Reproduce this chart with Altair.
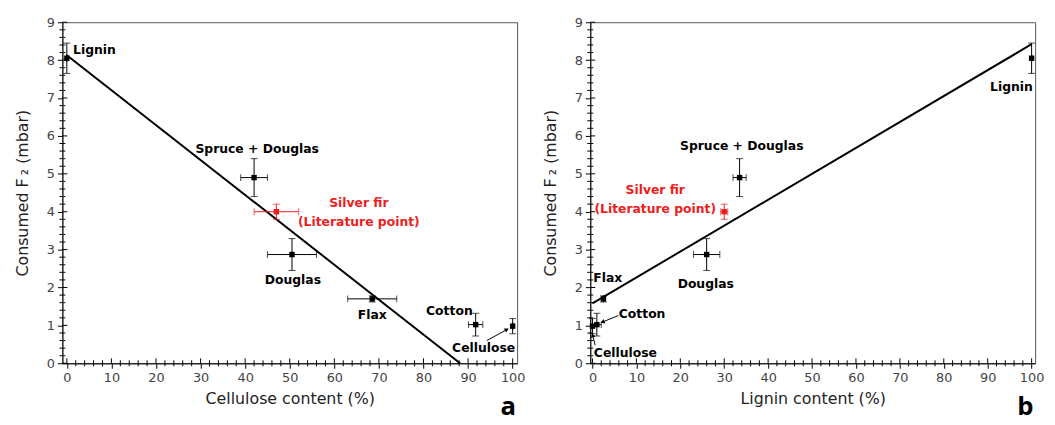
import altair as alt
import pandas as pd
import numpy as np

# ---------------- data ----------------
names = ["Lignin", "Spruce + Douglas", "Silver fir", "Douglas", "Flax", "Cotton", "Cellulose"]
consumed = [8.05, 4.9, 4.0, 2.87, 1.7, 1.02, 0.98]
consumed_err = [0.4, 0.5, 0.2, 0.42, 0.08, 0.3, 0.2]
cellulose = [0, 42, 47, 50.5, 68.5, 91.7, 100]
cellulose_err = [0, 3, 5, 5.5, 5.5, 1.6, 0]
lignin = [100, 33.5, 30, 26, 2.5, 1, 0]
lignin_err = [0, 1.5, 0.8, 3, 0, 1, 0]
group = ["sample", "sample", "literature", "sample", "sample", "sample", "sample"]

fit_a_x = [0, 88.2]
fit_a_y = [8.13, 0]
fit_b_x = [0, 100]
fit_b_y = [1.58, 8.42]

lab_a_text = ["Lignin", "Spruce + Douglas", "Silver fir", "(Literature point)", "Douglas", "Flax", "Cotton", "Cellulose"]
lab_a_x = [1.4, 42.7, 65.5, 65.5, 50.7, 68.5, 85.8, 93.5]
lab_a_y = [8.27, 5.66, 4.23, 3.73, 2.19, 1.28, 1.39, 0.39]
lab_a_align = ["left", "center", "center", "center", "center", "center", "center", "center"]
lab_a_group = ["sample", "sample", "literature", "literature", "sample", "sample", "sample", "sample"]

lab_b_text = ["Lignin", "Spruce + Douglas", "Silver fir", "(Literature point)", "Douglas", "Flax", "Cotton", "Cellulose"]
lab_b_x = [95.4, 34.0, 14.3, 14.3, 25.8, 0.2, 11.3, 7.5]
lab_b_y = [7.30, 5.72, 4.56, 4.07, 2.10, 2.26, 1.30, 0.28]
lab_b_align = ["center", "center", "center", "center", "center", "left", "center", "center"]
lab_b_group = ["sample", "sample", "literature", "literature", "sample", "sample", "sample", "sample"]

arrow_a_x = [94.2]
arrow_a_y = [0.6]
arrow_a_x2 = [98.7]
arrow_a_y2 = [0.89]

arrow_b_x = [5.9, 0.6]
arrow_b_y = [1.26, 0.48]
arrow_b_x2 = [2.3, 0.05]
arrow_b_y2 = [1.09, 0.74]

x_major = list(range(0, 101, 10))
x_minor = [v for v in range(0, 101, 2) if v % 10 != 0]
y_major = list(range(0, 10))
y_minor = [round(v, 1) for v in np.arange(0, 9.01, 0.2) if abs(v - round(v)) > 1e-6]

# ---------------- styling ----------------
W_A, W_B, H = 460, 450, 345
FONT = "DejaVu Sans"
RED = "#ee1c1c"
color_scale = alt.Scale(domain=["sample", "literature"], range=["black", RED])
Y_DOM = [0, 9]


def panel(xvals, xerr, fit_x, fit_y, lab_text, lab_x, lab_y, lab_align, lab_group,
          ar_x, ar_y, ar_x2, ar_y2, x_dom, width, xtitle, letter, letter_x):
    df = pd.DataFrame({
        "name": names, "x": xvals, "y": consumed, "group": group,
        "xlo": [a - b for a, b in zip(xvals, xerr)],
        "xhi": [a + b for a, b in zip(xvals, xerr)],
        "ylo": [a - b for a, b in zip(consumed, consumed_err)],
        "yhi": [a + b for a, b in zip(consumed, consumed_err)],
    })
    xs = alt.Scale(domain=x_dom, nice=False, zero=False)
    ys = alt.Scale(domain=Y_DOM, nice=False, zero=False)
    xaxis = alt.Axis(values=x_major, title=xtitle, grid=False, tickSize=5, tickColor="black",
                     domainColor="black", labelColor="#444", labelFont=FONT, labelFontSize=13,
                     labelPadding=3, titleFont=FONT, titleFontSize=16, titleFontWeight="normal",
                     titleColor="#222", titlePadding=7)
    yaxis = alt.Axis(values=y_major, title="Consumed F\u2009\u2082 (mbar)", grid=False, tickSize=5,
                     tickColor="black", domainColor="black", labelColor="#444", labelFont=FONT,
                     labelFontSize=13, labelPadding=3, titleFont=FONT, titleFontSize=16,
                     titleFontWeight="normal", titleColor="#222", titlePadding=16)
    X = lambda f: alt.X(f, type="quantitative", scale=xs, axis=xaxis)
    Y = lambda f: alt.Y(f, type="quantitative", scale=ys, axis=yaxis)
    col = alt.Color("group:N", scale=color_scale, legend=None)

    base = alt.Chart(df)
    fit = alt.Chart(pd.DataFrame({"x": fit_x, "y": fit_y})).mark_line(
        color="black", strokeWidth=2).encode(x=X("x"), y=Y("y"))
    xbar = base.mark_rule(strokeWidth=1).encode(x=X("xlo"), x2="xhi", y=Y("y"), color=col)
    ybar = base.mark_rule(strokeWidth=1).encode(x=X("x"), y=Y("ylo"), y2="yhi", color=col)
    xcap_lo = base.mark_tick(orient="vertical", size=7, thickness=1).encode(x=X("xlo"), y=Y("y"), color=col)
    xcap_hi = base.mark_tick(orient="vertical", size=7, thickness=1).encode(x=X("xhi"), y=Y("y"), color=col)
    ycap_lo = base.mark_tick(orient="horizontal", size=7, thickness=1).encode(x=X("x"), y=Y("ylo"), color=col)
    ycap_hi = base.mark_tick(orient="horizontal", size=7, thickness=1).encode(x=X("x"), y=Y("yhi"), color=col)
    pts = base.mark_square(size=30, opacity=1).encode(x=X("x"), y=Y("y"), color=col)

    labs = pd.DataFrame({"t": lab_text, "x": lab_x, "y": lab_y, "al": lab_align, "group": lab_group})
    lab_left = alt.Chart(labs[labs.al == "left"]).mark_text(
        align="left", baseline="middle", font=FONT, fontSize=12.5, fontWeight="bold").encode(
        x=X("x"), y=Y("y"), text="t:N", color=col)
    lab_center = alt.Chart(labs[labs.al == "center"]).mark_text(
        align="center", baseline="middle", font=FONT, fontSize=12.5, fontWeight="bold").encode(
        x=X("x"), y=Y("y"), text="t:N", color=col)

    ar = pd.DataFrame({"x": ar_x, "y": ar_y, "x2": ar_x2, "y2": ar_y2})
    sx = width / (x_dom[1] - x_dom[0])
    sy = H / (Y_DOM[1] - Y_DOM[0])
    ar["ang"] = [(np.degrees(np.arctan2(-(b2 - b) * sy, (a2 - a) * sx)) + 90) % 360
                 for a, b, a2, b2 in zip(ar_x, ar_y, ar_x2, ar_y2)]
    ar_line = alt.Chart(ar).mark_rule(color="black", strokeWidth=1).encode(
        x=X("x"), y=Y("y"), x2="x2", y2="y2")
    ar_head = alt.Chart(ar).mark_point(shape="triangle-up", filled=True, color="black",
                                       size=22, opacity=1).encode(
        x=X("x2"), y=Y("y2"), angle=alt.Angle("ang:Q", scale=None))

    xt_major = alt.Chart(pd.DataFrame({"v": x_major})).mark_rule(color="black").encode(
        x=X("v"), y=alt.value(H - 5), y2=alt.value(H))
    xt_minor = alt.Chart(pd.DataFrame({"v": x_minor})).mark_rule(color="black").encode(
        x=X("v"), y=alt.value(H - 3), y2=alt.value(H + 3))
    yt_major = alt.Chart(pd.DataFrame({"v": y_major})).mark_rule(color="black").encode(
        y=Y("v"), x=alt.value(0), x2=alt.value(5))
    yt_minor = alt.Chart(pd.DataFrame({"v": y_minor})).mark_rule(color="black").encode(
        y=Y("v"), x=alt.value(-3), x2=alt.value(3))

    let = alt.Chart(pd.DataFrame({"t": [letter]})).mark_text(
        align="center", baseline="alphabetic", font="Open Sans", fontSize=26,
        fontWeight="bold", color="black").encode(
        x=alt.value(letter_x), y=alt.value(H + 52), text="t:N")

    return alt.layer(xt_major, xt_minor, yt_major, yt_minor, fit, xbar, ybar, xcap_lo, xcap_hi,
                     ycap_lo, ycap_hi, pts, lab_left, lab_center, ar_line, ar_head, let
                     ).properties(width=width, height=H)


pa = panel(cellulose, cellulose_err, fit_a_x, fit_a_y, lab_a_text, lab_a_x, lab_a_y, lab_a_align,
           lab_a_group, arrow_a_x, arrow_a_y, arrow_a_x2, arrow_a_y2, [-1, 101], W_A,
           "Cellulose content (%)", "a", 451)
pb = panel(lignin, lignin_err, fit_b_x, fit_b_y, lab_b_text, lab_b_x, lab_b_y, lab_b_align,
           lab_b_group, arrow_b_x, arrow_b_y, arrow_b_x2, arrow_b_y2, [-0.5, 100.8], W_B,
           "Lignin content (%)", "b", 440)

chart = alt.hconcat(pa, pb, spacing=16).properties(
    padding={"left": 6, "top": 5, "right": 2, "bottom": 0},
    background="white",
).configure_view(stroke="#555", strokeWidth=1)

chart.save("out.html", embed_options={"renderer": "svg", "actions": False})
